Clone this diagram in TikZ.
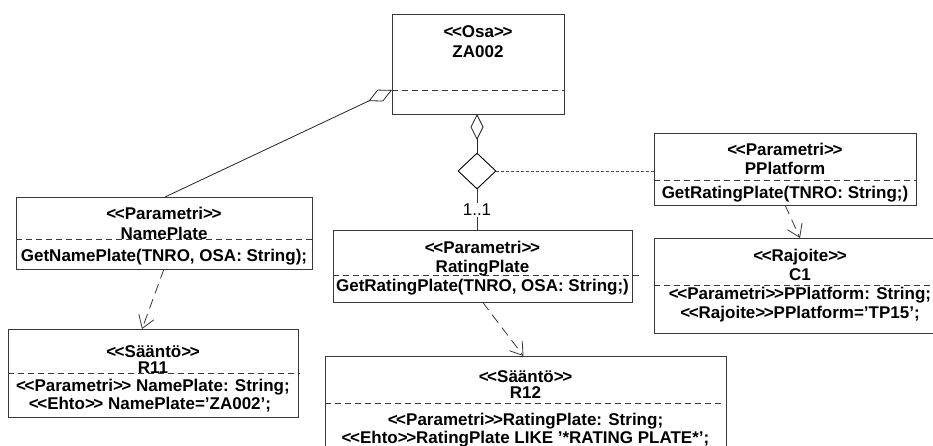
\documentclass[tikz,border=0pt]{standalone}
\usepackage{fontspec}
\setmainfont{Liberation Sans}[Ligatures=TeXOff]
\usetikzlibrary{arrows.meta,shapes.geometric,calc}

% stereotype brackets, set close together
\newcommand\stl{<\kern-1.5pt<}
\newcommand\stg{>\kern-1.5pt>}

\begin{document}
\begin{tikzpicture}[x=1pt,y=-1pt,
  box/.style={draw=black!78,line width=0.8pt,inner sep=0pt,outer sep=0pt},
  sep/.style={draw=black!78,line width=0.8pt,dash pattern=on 6pt off 4pt},
  txt/.style={anchor=base,inner sep=0pt,font=\fontsize{17pt}{18pt}\selectfont\bfseries},
  mult/.style={inner sep=1pt,fill=white,font=\fontsize{17pt}{18pt}\selectfont},
  dep/.style={draw=black!78,line width=0.8pt,dash pattern=on 10pt off 6pt,
    -{Straight Barb[length=12pt,width=16pt,line width=0.8pt]}},
  link/.style={draw=black!70,line width=0.8pt,dash pattern=on 3pt off 2pt},
  agg/.style={draw=black!85,line width=0.8pt,
    -{Diamond[open,length=26pt,width=13pt,line width=0.8pt]}},
  choice/.style={shape=diamond,draw=black,line width=0.9pt,inner sep=0pt,
    minimum width=38pt,minimum height=36pt}]

\fill[white] (0,0) rectangle (933,445);
\useasboundingbox (0,0) rectangle (933,445);
\clip (0,0) rectangle (933,445);

% class boxes
\node[box,minimum width=172pt,minimum height=100pt] (za)  at (478,64)    {};
\node[box,minimum width=296pt,minimum height=72pt]  (np)  at (164,233)   {};
\node[box,minimum width=290pt,minimum height=88pt]  (r11) at (153,373)   {};
\node[box,minimum width=299pt,minimum height=72pt]  (rp)  at (482.5,266) {};
\node[box,minimum width=401pt,minimum height=114pt] (r12) at (525.5,413) {};
\node[box,minimum width=262pt,minimum height=72pt]  (pp)  at (785,169)   {};
\node[box,minimum width=292pt,minimum height=95pt]  (c1)  at (800,285.5) {};

% compartment separators
\draw[sep] ([yshift=-26pt]za.west) -- ([yshift=-26pt]za.east);
\draw[sep] ([yshift=-6pt]np.west) -- ([xshift=3pt,yshift=-6pt]np.east);
\draw[sep] (r11.west) -- ([xshift=2pt]r11.east);
\draw[sep] ([yshift=-9pt]rp.west) -- ([xshift=10pt,yshift=-9pt]rp.east);
\draw[sep] ([yshift=10pt]r12.west) -- ([xshift=-3pt,yshift=10pt]r12.east);
\draw[sep] ([yshift=-11pt]pp.west) -- ([xshift=1pt,yshift=-11pt]pp.east);
\draw[sep] (c1.west) -- (c1.east);

% texts
\node[txt] (za-s) at (478,37) {\stl Osa\stg};
\node[txt] (za-n) at (478,57) {ZA002};

\node[txt] (np-s) at (164,219) {\stl Parametri\stg};
\node[txt] (np-n) at (164,239) {NamePlate};
\node[txt] (np-o) at (164,261) {GetNamePlate(TNRO, OSA: String);};

\node[txt] (r11-s) at (153,357) {\stl Sääntö\stg};
\node[txt] (r11-n) at (153,373) {R11};
\node[txt] (r11-a) at (153,391) {\stl Parametri\stg{} NamePlate: String;};
\node[txt] (r11-b) at (150,409) {\stl Ehto\stg{} NamePlate=’ZA002’;};

\node[txt] (rp-s) at (482.5,253) {\stl Parametri\stg};
\node[txt] (rp-n) at (482.5,272) {RatingPlate};
\node[txt] (rp-o) at (482.5,291) {GetRatingPlate(TNRO, OSA: String;)};

\node[txt] (r12-s) at (525.5,382) {\stl Sääntö\stg};
\node[txt] (r12-n) at (525.5,398) {R12};
\node[txt] (r12-a) at (525.5,425) {\stl Parametri\stg RatingPlate: String;};
\node[txt] (r12-b) at (525.5,443) {\stl Ehto\stg RatingPlate LIKE ’*RATING PLATE*’;};

\node[txt] (pp-s) at (785,155) {\stl Parametri\stg};
\node[txt] (pp-n) at (785,174) {PPlatform};
\node[txt] (pp-o) at (785,198) {GetRatingPlate(TNRO: String;)};

\node[txt] (c1-s) at (800,261) {\stl Rajoite\stg};
\node[txt] (c1-n) at (800,280) {C1};
\node[txt] (c1-a) at (800,299) {\stl Parametri\stg PPlatform: String;};
\node[txt] (c1-b) at (800,318) {\stl Rajoite\stg PPlatform=’TP15’;};

% aggregation of the part
\node[choice] (ch) at (477,171) {};
\coordinate (zaAg) at ([yshift=-26pt]za.west);
\draw[agg] ([xshift=1pt]np.north) -- (zaAg);
\draw[agg] (ch.north) -- (ch.north |- za.south);
\draw[draw=black!78,line width=0.8pt] (ch.south) -- (ch.south |- rp.north)
  node[mult,midway] (m11) {1..1};
\draw[link] (ch.east) -- (ch.east -| pp.west);

% dependencies
\draw[dep] (np.south) -- ([xshift=-11pt]r11.north);
\draw[dep] (rp.south) -- ([xshift=-2pt]r12.north);
\draw[dep] (pp.south) -- (c1.north);
\end{tikzpicture}
\end{document}
